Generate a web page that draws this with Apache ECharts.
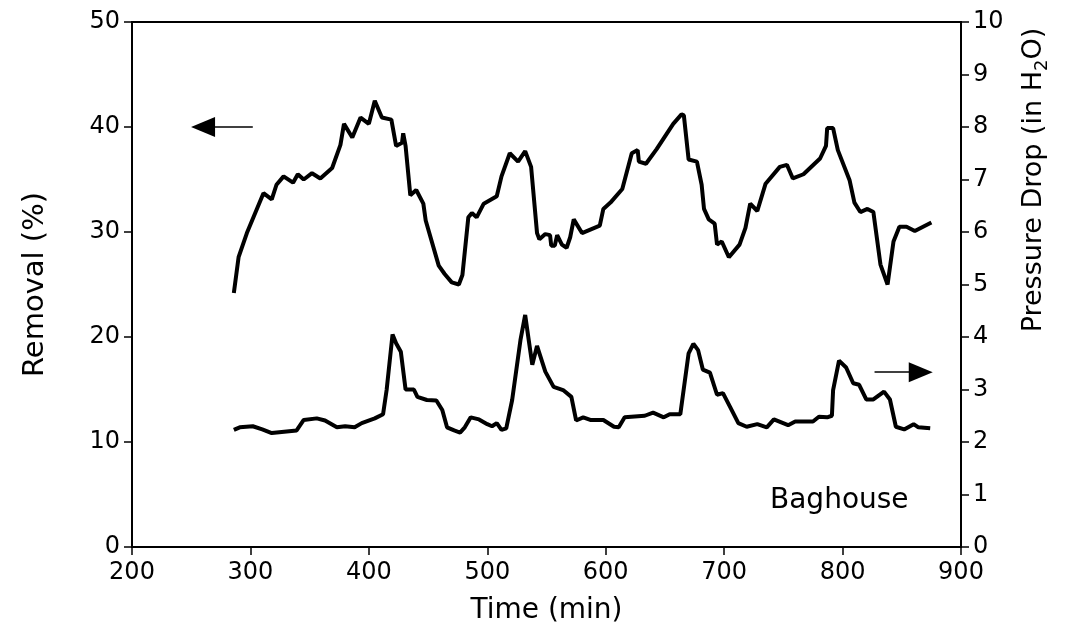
<!DOCTYPE html>
<html>
<head>
<meta charset="utf-8">
<script src="https://cdn.jsdelivr.net/npm/echarts@6/dist/echarts.min.js"></script>
<style>
  html, body { margin: 0; padding: 0; background: #fff; }
  #chart { width: 1074px; height: 639px; }
</style>
</head>
<body>
<div id="chart"></div>
<script>
// removal (%) vs time, left axis
const removalTime = [286, 290, 297, 311, 318, 322, 328, 336, 340, 345, 352, 359, 369, 376, 379, 386, 393, 400, 405, 411,
  419, 423, 428, 429, 431, 435, 440, 446, 448, 459, 464, 470, 476, 479, 484, 487, 491, 497, 508, 512,
  519, 526, 532, 537, 542, 544, 549, 553, 554, 557, 559, 563, 567, 570, 573, 580, 595, 598, 604, 614,
  622, 627, 628, 634, 643, 657, 664, 666, 670, 677, 681, 683, 687, 692, 694, 698, 704, 713, 718, 722,
  728, 735, 747, 753, 758, 767, 781, 786, 787, 792, 796, 806, 810, 815, 821, 826, 832, 838, 843, 848,
  854, 861, 875]
const removalPct = [24.2, 27.6, 29.9, 33.7, 33.1, 34.5, 35.3, 34.7, 35.5, 35.0, 35.6, 35.1, 36.1, 38.3, 40.3, 39.0, 40.9, 40.3, 42.5, 40.9,
  40.7, 38.2, 38.5, 39.4, 38.2, 33.5, 34.0, 32.7, 31.1, 26.8, 26.0, 25.2, 25.0, 25.9, 31.4, 31.8, 31.4, 32.7, 33.4, 35.3,
  37.5, 36.7, 37.7, 36.2, 29.9, 29.3, 29.8, 29.7, 28.7, 28.7, 29.7, 28.8, 28.5, 29.5, 31.2, 29.9, 30.6, 32.2, 32.8, 34.1,
  37.5, 37.8, 36.7, 36.5, 37.9, 40.3, 41.2, 41.1, 36.9, 36.7, 34.5, 32.2, 31.2, 30.8, 28.8, 29.1, 27.6, 28.8, 30.4, 32.7,
  32.0, 34.6, 36.2, 36.4, 35.1, 35.5, 37.0, 38.2, 39.9, 39.9, 37.8, 34.9, 32.8, 31.9, 32.2, 31.9, 26.9, 25.0, 29.1, 30.5,
  30.5, 30.1, 30.9]

// pressure drop (in H2O) vs time, right axis
const pressureTime = [286, 291, 302, 310, 318, 339, 345, 356, 363, 373, 380, 388, 394, 405, 412, 415, 420, 423, 427, 431,
  438, 441, 449, 457, 462, 466, 472, 477, 481, 486, 493, 500, 504, 508, 512, 516, 521, 528, 532, 535,
  538, 542, 549, 556, 564, 571, 575, 581, 587, 598, 607, 611, 616, 633, 640, 649, 654, 663, 670, 674,
  678, 682, 688, 694, 699, 705, 712, 719, 728, 736, 742, 754, 760, 775, 780, 787, 791, 792, 797, 803,
  809, 814, 820, 826, 835, 840, 845, 852, 860, 864, 874]
const pressureDrop = [2.23, 2.28, 2.30, 2.24, 2.17, 2.22, 2.42, 2.45, 2.41, 2.28, 2.30, 2.28, 2.36, 2.45, 2.53, 2.99, 4.05, 3.88, 3.72, 3.00,
  3.00, 2.86, 2.80, 2.79, 2.61, 2.28, 2.22, 2.18, 2.28, 2.47, 2.43, 2.34, 2.30, 2.36, 2.23, 2.26, 2.80, 3.94, 4.42, 3.94,
  3.47, 3.83, 3.34, 3.05, 2.99, 2.86, 2.41, 2.47, 2.42, 2.42, 2.29, 2.28, 2.47, 2.50, 2.56, 2.47, 2.53, 2.53, 3.69, 3.87,
  3.75, 3.38, 3.32, 2.90, 2.93, 2.67, 2.36, 2.29, 2.34, 2.28, 2.43, 2.32, 2.39, 2.39, 2.48, 2.47, 2.50, 2.99, 3.55, 3.42,
  3.12, 3.09, 2.81, 2.81, 2.96, 2.81, 2.29, 2.24, 2.34, 2.28, 2.26]

// arrows pointing to the axis each curve belongs to (start, head centre)
const removalArrow = [[302, 40], [260, 40]]
const pressureArrow = [[827, 3.33], [866, 3.33]]

const FONT = 'DejaVu Sans'
const chart = echarts.init(document.getElementById('chart'))

const axisLine = { show: true, lineStyle: { color: '#000', width: 2 } }
const axisTick = { show: true, length: 8, lineStyle: { color: '#000', width: 1.5 } }
const arrowMark = (pts) => ({
  silent: true,
  symbol: ['none', 'triangle'],
  symbolSize: [20, 24],
  label: { show: false },
  lineStyle: { color: '#000', width: 1.5, type: 'solid' },
  data: [[{ coord: pts[0] }, { coord: pts[1] }]]
})

const option = {
  animation: false,
  backgroundColor: '#fff',
  grid: {
    left: 132, right: 113, top: 22, bottom: 92,
    show: true, borderColor: '#000', borderWidth: 2
  },
  xAxis: {
    type: 'value',
    min: 200, max: 900, interval: 100,
    name: 'Time (min)',
    nameLocation: 'middle',
    nameGap: 50,
    nameTextStyle: { fontFamily: FONT, fontSize: 28, color: '#000' },
    axisLine, axisTick,
    splitLine: { show: false },
    axisLabel: { margin: 14, fontFamily: FONT, fontSize: 24, color: '#000' }
  },
  yAxis: [{
    type: 'value',
    min: 0, max: 50, interval: 10,
    name: 'Removal (%)',
    nameLocation: 'middle',
    nameRotate: 90,
    nameGap: 82,
    nameTextStyle: { fontFamily: FONT, fontSize: 29, color: '#000' },
    axisLine, axisTick,
    splitLine: { show: false },
    axisLabel: { margin: 12, fontFamily: FONT, fontSize: 24, color: '#000' }
  }, {
    type: 'value',
    position: 'right',
    min: 0, max: 10, interval: 1,
    axisLine, axisTick,
    splitLine: { show: false },
    axisLabel: { margin: 12, fontFamily: FONT, fontSize: 24, color: '#000' }
  }],
  series: [{
    name: 'Removal',
    type: 'line',
    yAxisIndex: 0,
    data: removalTime.map((t, i) => [t, removalPct[i]]),
    showSymbol: false,
    lineStyle: { color: '#000', width: 4 },
    markLine: arrowMark(removalArrow)
  }, {
    name: 'Pressure Drop',
    type: 'line',
    yAxisIndex: 1,
    data: pressureTime.map((t, i) => [t, pressureDrop[i]]),
    showSymbol: false,
    lineStyle: { color: '#000', width: 4 },
    markLine: arrowMark(pressureArrow)
  }],
  graphic: [{
    type: 'text',
    x: 1034, y: 180,
    rotation: Math.PI / 2,
    style: {
      text: '{a|Pressure Drop (in H}{s|2}{a|O)}',
      rich: {
        a: { fontFamily: FONT, fontSize: 27, fill: '#000' },
        s: { fontFamily: FONT, fontSize: 18, fill: '#000', padding: [16, 0, 0, 0] }
      },
      align: 'center',
      verticalAlign: 'middle'
    }
  }, {
    type: 'text',
    left: 770, top: 487,
    style: { text: 'Baghouse', fontFamily: FONT, fontSize: 28, fill: '#000' }
  }]
}

chart.setOption(option)
</script>
</body>
</html>
